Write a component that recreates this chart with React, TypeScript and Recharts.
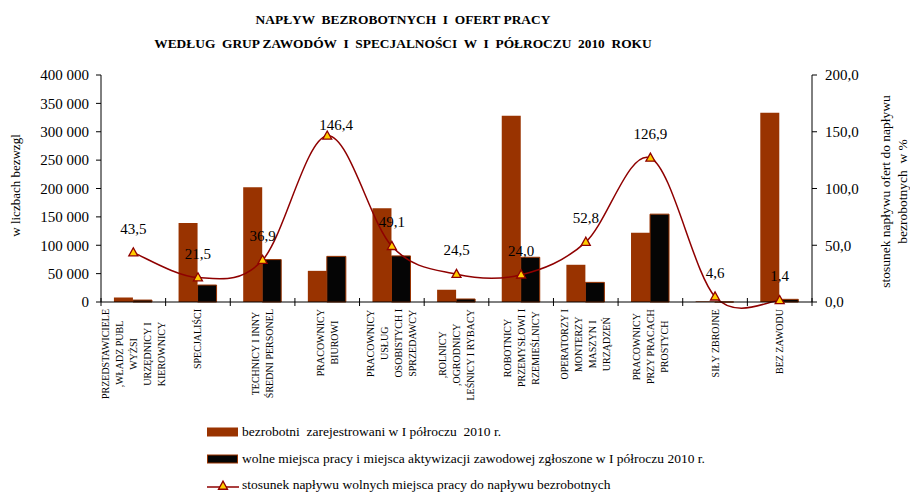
import { ComposedChart, Bar, Line, XAxis, YAxis, LabelList } from "recharts";

/* ── data ────────────────────────────────────────────────────── */
const categoryLines: string[][] = [
  ["PRZEDSTAWICIELE", ",WŁADZ PUBL", "WYŻSI", "URZĘDNICY I", "KIEROWNICY"],
  ["SPECJALIŚCI"],
  ["TECHNICY I INNY", "ŚREDNI PERSONEL"],
  ["PRACOWNICY", "BIUROWI"],
  ["PRACOWNICY", "USŁUG", "OSOBISTYCH I", "SPRZEDAWCY"],
  [",ROLNICY", ",OGRODNICY", "LEŚNICY I RYBACY"],
  ["ROBOTNICY", "PRZEMYSŁOWI I", "RZEMIEŚLNICY"],
  ["OPERATORZY I", "MONTERZY", "MASZYN I", "URZĄDZEŃ"],
  ["PRACOWNICY", "PRZY PRACACH", "PROSTYCH"],
  ["SIŁY ZBROJNE"],
  ["BEZ ZAWODU"],
];
const unemployed = [7800, 139000, 202400, 54900, 165400, 21600, 328400, 65600, 122000, 1200, 333700];
const offers = [3400, 29900, 74700, 80400, 81200, 5300, 78800, 34600, 154800, 55, 4700];
const ratio = [43.5, 21.5, 36.9, 146.4, 49.1, 24.5, 24.0, 52.8, 126.9, 4.6, 1.4];
const leftTicks = [0, 50000, 100000, 150000, 200000, 250000, 300000, 350000, 400000];
const rightTicks = [0, 50, 100, 150, 200];

const data = categoryLines.map((lines, i) => ({
  name: lines.join(" "),
  unemployed: unemployed[i],
  offers: offers[i],
  ratio: ratio[i],
}));

const BROWN = "#993300";
const LINE = "#8f0000";
const FONT = '"Liberation Serif", "Times New Roman", serif';

let canvasCtx: CanvasRenderingContext2D | null = null;
function measure(text: string, font: string) {
  if (!canvasCtx) canvasCtx = document.createElement("canvas").getContext("2d");
  if (!canvasCtx) return text.length * 6;
  canvasCtx.font = font;
  return canvasCtx.measureText(text).width;
}

const fmtThousands = (v: number) => String(v).replace(/\B(?=(\d{3})+(?!\d))/g, " ");
const fmtComma = (v: number) => v.toFixed(1).replace(".", ",");

// Excel-like smoothed line (Catmull-Rom through the points)
const excelSmooth = (context: any) => {
  let pts: number[][] = [];
  return {
    areaStart() {},
    areaEnd() {},
    lineStart() {
      pts = [];
    },
    point(x: number, y: number) {
      pts.push([+x, +y]);
    },
    lineEnd() {
      if (!pts.length) return;
      context.moveTo(pts[0][0], pts[0][1]);
      for (let i = 0; i < pts.length - 1; i++) {
        const p0 = pts[i - 1] || pts[i];
        const p1 = pts[i];
        const p2 = pts[i + 1];
        const p3 = pts[i + 2] || p2;
        context.bezierCurveTo(
          p1[0] + (p2[0] - p0[0]) / 6,
          p1[1] + (p2[1] - p0[1]) / 6,
          p2[0] - (p3[0] - p1[0]) / 6,
          p2[1] - (p3[1] - p1[1]) / 6,
          p2[0],
          p2[1]
        );
      }
    },
  };
};

function Triangle({ cx, cy, size = 9 }: { cx: number; cy: number; size?: number }) {
  const h = size * 0.9;
  return (
    <polygon
      points={`${cx},${cy - h * 0.6} ${cx - size / 2},${cy + h * 0.4} ${cx + size / 2},${cy + h * 0.4}`}
      fill="#ffcc00"
      stroke={LINE}
      strokeWidth={1.3}
    />
  );
}

function CategoryTick(props: any) {
  const { x, y, payload } = props;
  const idx = payload.index;
  const lines = categoryLines[idx] || [];
  const half = payload.offset || (812 - 101) / 22;
  const font = `10px ${FONT}`;
  const maxW = Math.max(...lines.map((l) => measure(l, font)));
  const cy = y + 7 + maxW / 2;
  const spacing = 14;
  return (
    <g>
      <line x1={x - half} y1={y - 4} x2={x - half} y2={y + 4} stroke="#000" />
      {idx === categoryLines.length - 1 && (
        <line x1={x + half} y1={y - 4} x2={x + half} y2={y + 4} stroke="#000" />
      )}
      {lines.map((l, i) => {
        const lx = x + (i - (lines.length - 1) / 2) * spacing;
        return (
          <text
            key={i}
            transform={`translate(${lx}, ${cy}) rotate(-90)`}
            textAnchor="middle"
            dominantBaseline="central"
            fontSize={10}
            fontFamily={FONT}
            fill="#000"
          >
            {l}
          </text>
        );
      })}
    </g>
  );
}

function RatioLabel(props: any) {
  const { x, y, value, index } = props;
  const lift = index === 3 ? 11 : 24;
  const dx = index === 3 ? 9 : 0;
  return (
    <text
      x={x + dx}
      y={y - lift}
      textAnchor="middle"
      dominantBaseline="central"
      fontSize={15}
      fontFamily={FONT}
      fill="#000"
    >
      {fmtComma(value)}
    </text>
  );
}

function LeftLabel({ viewBox }: any) {
  const cx = viewBox.x + 15;
  const cy = viewBox.y + viewBox.height / 2 - 3;
  return (
    <text transform={`translate(${cx}, ${cy}) rotate(-90)`} textAnchor="middle" dominantBaseline="central" fontSize={13} fontFamily={FONT} fill="#000">
      w liczbach bezwzgl
    </text>
  );
}

function RightLabel({ viewBox }: any) {
  const cy = viewBox.y + viewBox.height / 2 + 3;
  const x1 = viewBox.x + 73;
  const x2 = viewBox.x + 90;
  return (
    <g>
      <text transform={`translate(${x1}, ${cy}) rotate(-90)`} textAnchor="middle" dominantBaseline="central" fontSize={13.5} fontFamily={FONT} fill="#000">
        stosunek napływu ofert do napływu
      </text>
      <text transform={`translate(${x2}, ${cy}) rotate(-90)`} textAnchor="middle" dominantBaseline="central" fontSize={13.5} fontFamily={FONT} fill="#000" style={{ whiteSpace: "pre" }}>
        {"bezrobotnych  w %"}
      </text>
    </g>
  );
}

/* ── legend ───────────────────────────────────────────────────── */
const legendRows = [
  { label: "bezrobotni  zarejestrowani w I półroczu  2010 r.", kind: "brown" },
  { label: "wolne miejsca pracy i miejsca aktywizacji zawodowej zgłoszone w I półroczu 2010 r.", kind: "black" },
  { label: "stosunek napływu wolnych miejsca pracy do napływu bezrobotnych", kind: "line" },
];

function LegendSwatch({ kind }: { kind: string }) {
  return (
    <svg width={34} height={14} style={{ display: "block" }}>
      {kind === "brown" && <rect x={1} y={2.5} width={31} height={9} fill={BROWN} />}
      {kind === "black" && <rect x={1.5} y={3} width={30} height={8} fill="#050505" stroke={BROWN} strokeWidth={1} />}
      {kind === "line" && (
        <g>
          <line x1={1} y1={9} x2={33} y2={9} stroke={LINE} strokeWidth={1.5} />
          <Triangle cx={17} cy={8} size={9} />
        </g>
      )}
    </svg>
  );
}

export default function App() {
  return (
    <div style={{ position: "absolute", left: 0, top: 0, width: 910, height: 494, background: "#fff", fontFamily: FONT, color: "#000", overflow: "hidden" }}>
      <div style={{ position: "absolute", left: 0, width: 806, top: 8, textAlign: "center", fontWeight: "bold", fontSize: 13.4, lineHeight: "24px", whiteSpace: "pre" }}>
        {"NAPŁYW  BEZROBOTNYCH  I  OFERT PRACY\nWEDŁUG  GRUP ZAWODÓW  I  SPECJALNOŚCI  W  I  PÓŁROCZU  2010  ROKU"}
      </div>

      <ComposedChart
        width={910}
        height={494}
        data={data}
        margin={{ top: 75, right: 0, bottom: 0, left: 0 }}
        barCategoryGap="20%"
        barGap={0}
        style={{ position: "absolute", left: 0, top: 0 }}
      >
        <XAxis
          dataKey="name"
          height={192}
          interval={0}
          tickLine={false}
          tickSize={0}
          tickMargin={0}
          axisLine={{ stroke: "#000" }}
          tick={<CategoryTick />}
        />
        <YAxis
          yAxisId="left"
          width={101}
          domain={[0, 400000]}
          ticks={leftTicks}
          tickFormatter={fmtThousands}
          axisLine={{ stroke: "#000" }}
          tickLine={{ stroke: "#000" }}
          tickSize={5}
          tickMargin={7}
          tick={{ fontSize: 15, fill: "#000", fontFamily: FONT }}
          label={<LeftLabel />}
        />
        <YAxis
          yAxisId="right"
          orientation="right"
          width={98}
          domain={[0, 200]}
          ticks={rightTicks}
          tickFormatter={fmtComma}
          axisLine={{ stroke: "#000" }}
          tickLine={{ stroke: "#000" }}
          tickSize={5}
          tickMargin={8}
          tick={{ fontSize: 15, fill: "#000", fontFamily: FONT }}
          label={<RightLabel />}
        />
        <Bar yAxisId="left" dataKey="unemployed" fill={BROWN} isAnimationActive={false} />
        <Bar yAxisId="left" dataKey="offers" fill="#050505" stroke={BROWN} strokeWidth={1} isAnimationActive={false} />
        <Line
          yAxisId="right"
          dataKey="ratio"
          type={excelSmooth as any}
          stroke={LINE}
          strokeWidth={1.5}
          isAnimationActive={false}
          dot={(p: any) => <Triangle key={`t${p.index}`} cx={p.cx} cy={p.cy} />}
          activeDot={false}
        >
          <LabelList dataKey="ratio" content={<RatioLabel />} />
        </Line>
      </ComposedChart>

      <div style={{ position: "absolute", left: 206, top: 419 }}>
        {legendRows.map((r, i) => (
          <div key={i} style={{ display: "flex", alignItems: "center", height: 26.5, fontSize: 13.5, whiteSpace: "pre" }}>
            <LegendSwatch kind={r.kind} />
            <span style={{ marginLeft: 2 }}>{r.label}</span>
          </div>
        ))}
      </div>
    </div>
  );
}
